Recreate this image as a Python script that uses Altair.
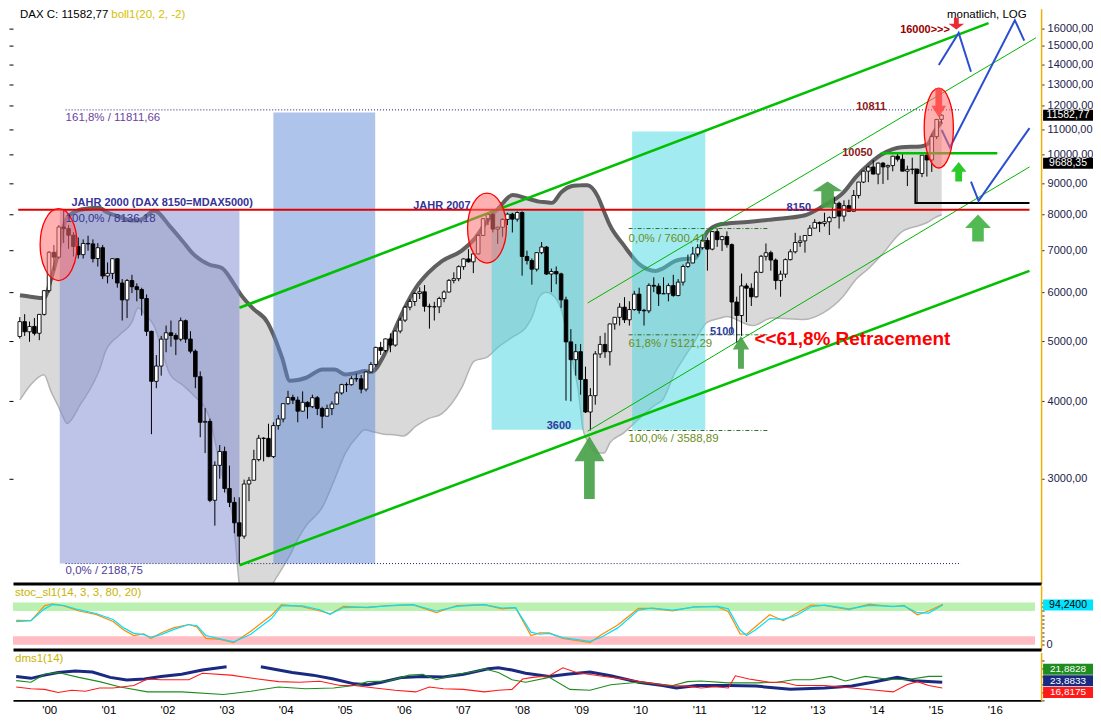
import altair as alt
import pandas as pd

FONT = "Liberation Sans"
W = 1030
H_MAIN, H_STO, H_DMS = 576, 64, 48
X_DOMAIN = [1999.386, 2016.783]
Y_DOMAIN = [2032, 17205]
STO_DOMAIN = [-11, 140]
DMS_DOMAIN = [0, 60]

year_ticks = list(range(2000, 2017))
main_ticks = [3000, 4000, 5000, 6000, 7000, 8000, 9000, 10000, 11000, 12000, 13000, 14000, 15000, 16000]

# ---------------- monthly candles, Jun 1999 .. Mar 2015 ----------------
first_month = 1999 + 5 / 12
c_open = [
    5090, 5378, 5179, 5283, 5150, 5525, 6034,
    6958, 6835, 7644, 7599, 7414, 7109, 6898, 7190, 7179, 6798, 7078, 6372,
    6434, 6795, 6208, 5830, 6265, 6123, 6058, 5861, 5188, 4308, 4560, 5039,
    5160, 5108, 5039, 5397, 5041, 4819, 4383, 3700, 3712, 2769, 3153, 3320,
    2893, 2748, 2547, 2424, 2942, 2983, 3221, 3487, 3485, 3257, 3655, 3746,
    3965, 4058, 4018, 3856, 3985, 3921, 4053, 3895, 3785, 3893, 3960, 4126,
    4256, 4255, 4350, 4349, 4185, 4461, 4587, 4887, 4830, 5044, 4929, 5193,
    5408, 5674, 5796, 5970, 6009, 5693, 5683, 5682, 5860, 6004, 6269, 6309,
    6597, 6789, 6716, 6917, 7409, 7883, 8007, 7584, 7638, 7862, 8019, 7871,
    8067, 6851, 6748, 6535, 6949, 7096, 6418, 6479, 6422, 5831, 4988, 4669,
    4810, 4338, 3844, 4085, 4770, 4941, 4809, 5332, 5465, 5675, 5415, 5625,
    5957, 5608, 5598, 6154, 6136, 5965, 5966, 6148, 5925, 6229, 6601, 6688,
    6914, 7077, 7272, 7041, 7514, 7294, 7376, 7159, 5785, 5502, 6141, 6089,
    5898, 6459, 6856, 6947, 6761, 6264, 6416, 6772, 6971, 7216, 7260, 7406,
    7612, 7776, 7742, 7795, 7914, 8349, 7959, 8276, 8104, 8594, 9033, 9406,
    9552, 9306, 9692, 9556, 9603, 9943, 9833, 9407, 9470, 9474, 9326, 9981,
    9806, 10694, 11402,
]
c_high = [
    5470, 5530, 5380, 5450, 5530, 6050, 6992,
    7150, 7700, 8136, 7700, 7500, 7350, 7300, 7400, 7300, 7200, 7150, 6700,
    6800, 6800, 6300, 6300, 6400, 6200, 6100, 5950, 5200, 4750, 5100, 5300,
    5400, 5150, 5460, 5420, 5190, 4850, 4470, 3900, 3750, 3200, 3400, 3380,
    3150, 2800, 2800, 2990, 3020, 3340, 3530, 3500, 3680, 3700, 3800, 3970,
    4160, 4100, 4070, 4150, 4000, 4100, 4080, 3920, 3950, 4000, 4150, 4270,
    4290, 4390, 4430, 4410, 4470, 4630, 4900, 4990, 5050, 5150, 5200, 5460,
    5700, 5850, 6000, 6110, 6160, 5750, 5790, 5900, 6040, 6300, 6460, 6630,
    6800, 7040, 6950, 7430, 7900, 8060, 8150, 7650, 7900, 8060, 8060, 8100,
    8100, 7000, 6800, 6960, 7230, 7120, 6550, 6600, 6450, 5900, 5230, 4950,
    4950, 4550, 4200, 4820, 5100, 5160, 5340, 5470, 5760, 5890, 5800, 6030,
    6100, 5640, 6200, 6340, 6200, 6340, 6200, 6400, 6300, 6650, 6900, 7100,
    7170, 7440, 7350, 7530, 7600, 7400, 7520, 7190, 5900, 6430, 6200, 6200,
    6500, 6890, 7190, 7000, 6800, 6500, 6800, 7040, 7480, 7400, 7420, 7700,
    7870, 7800, 8060, 7950, 8560, 8400, 8440, 8460, 8770, 9040, 9420, 9600,
    9800, 9710, 9730, 9640, 9960, 10050, 10050, 9600, 9890, 9500, 9990, 10090,
    10810, 11420, 11620,
]
c_low = [
    5050, 5100, 4990, 5110, 5020, 5500, 5990,
    6500, 6790, 7200, 7050, 6850, 6800, 6800, 7000, 6700, 6600, 6300, 6200,
    6300, 6100, 5400, 5450, 5980, 5800, 5500, 5100, 3540, 4200, 4400, 4800,
    4900, 4750, 5000, 4970, 4780, 4200, 3500, 3300, 2750, 2520, 3000, 2850,
    2700, 2450, 2189, 2400, 2760, 2980, 3200, 3200, 3250, 3240, 3600, 3700,
    3950, 3960, 3700, 3850, 3750, 3900, 3800, 3620, 3780, 3800, 3950, 4100,
    4140, 4240, 4300, 4120, 4150, 4450, 4550, 4750, 4800, 4800, 4900, 5150,
    5370, 5610, 5700, 5850, 5580, 5240, 5400, 5550, 5780, 5990, 6200, 6250,
    6520, 6700, 6440, 6900, 7400, 7700, 7490, 7180, 7370, 7700, 7490, 7800,
    6380, 6650, 6170, 6480, 6910, 6400, 6000, 6180, 5660, 4010, 4000, 4400,
    4100, 3830, 3589, 3950, 4700, 4700, 4570, 5220, 5300, 5350, 5300, 5600,
    5540, 5300, 5550, 6000, 5700, 5960, 5800, 5900, 5910, 6150, 6570, 6680,
    6850, 7030, 6500, 7010, 7100, 6990, 7080, 5150, 4966, 5100, 5370, 5700,
    5880, 6440, 6750, 6500, 6060, 5900, 6330, 6750, 6930, 7100, 6950, 7400,
    7610, 7500, 7660, 7420, 7900, 7600, 7800, 8100, 8100, 8500, 9000, 9030,
    9300, 8960, 8970, 9100, 9400, 9750, 9400, 8900, 9300, 8355, 9200, 9220,
    9380, 10600, 11250,
]
c_close = [
    5378, 5179, 5283, 5150, 5525, 6034, 6958,
    6835, 7644, 7599, 7414, 7109, 6898, 7190, 7179, 6798, 7078, 6372, 6434,
    6795, 6208, 5830, 6265, 6123, 6058, 5861, 5188, 4308, 4560, 5039, 5160,
    5108, 5039, 5397, 5041, 4819, 4383, 3700, 3712, 2769, 3153, 3320, 2893,
    2748, 2547, 2424, 2942, 2983, 3221, 3487, 3485, 3257, 3655, 3746, 3965,
    4058, 4018, 3856, 3985, 3921, 4053, 3895, 3785, 3893, 3960, 4126, 4256,
    4255, 4350, 4349, 4185, 4461, 4587, 4887, 4830, 5044, 4929, 5193, 5408,
    5674, 5796, 5970, 6009, 5693, 5683, 5682, 5860, 6004, 6269, 6309, 6597,
    6789, 6716, 6917, 7409, 7883, 8007, 7584, 7638, 7862, 8019, 7871, 8067,
    6851, 6748, 6535, 6949, 7096, 6418, 6479, 6422, 5831, 4988, 4669, 4810,
    4338, 3844, 4085, 4770, 4941, 4809, 5332, 5465, 5675, 5415, 5625, 5957,
    5608, 5598, 6154, 6136, 5965, 5966, 6148, 5925, 6229, 6601, 6688, 6914,
    7077, 7272, 7041, 7514, 7294, 7376, 7159, 5785, 5502, 6141, 6089, 5898,
    6459, 6856, 6947, 6761, 6264, 6416, 6772, 6971, 7216, 7260, 7406, 7612,
    7776, 7742, 7795, 7914, 8349, 7959, 8276, 8104, 8594, 9033, 9406, 9552,
    9306, 9692, 9556, 9603, 9943, 9833, 9407, 9470, 9474, 9326, 9981, 9806,
    10694, 11402, 11583,
]

# ---------------- Bollinger band ----------------
bb_t = [1999.42, 1999.60, 1999.83, 1999.95, 2000.08, 2000.17, 2000.22, 2000.45, 2000.66, 2000.78,
        2000.88, 2001.10, 2001.33, 2001.44, 2001.54, 2001.71, 2001.99, 2002.20, 2002.37, 2002.65,
        2002.87, 2003.07, 2003.20, 2003.40, 2003.65, 2003.76, 2003.90, 2004.03, 2004.17, 2004.31,
        2004.59, 2004.80, 2004.98, 2005.19, 2005.31, 2005.42, 2005.64, 2005.85, 2005.97, 2006.19,
        2006.40, 2006.63, 2006.97, 2007.18, 2007.41, 2007.60, 2007.84, 2008.08, 2008.18, 2008.29,
        2008.41, 2008.51, 2008.67, 2008.84, 2008.96, 2009.04, 2009.12, 2009.29, 2009.40, 2009.50,
        2009.73, 2010.00, 2010.28, 2010.40, 2010.61, 2010.73, 2010.95, 2011.16, 2011.39, 2011.49,
        2011.94, 2012.27, 2012.82, 2013.15, 2013.48, 2013.71, 2013.93, 2014.15, 2014.48, 2014.81,
        2014.93, 2015.04, 2015.17]
bb_up = [5930, 5900, 5870, 6300, 7000, 7695, 7900, 8150, 8200, 8212,
         8100, 7950, 7834, 7834, 7900, 8122, 7650, 7250, 6930, 6650,
         6565, 6200, 5935, 5650, 5363, 5100, 4700, 4319, 4330, 4366,
         4500, 4500, 4420, 4450, 4478, 4460, 4746, 5287, 5600, 6108,
         6450, 6733, 7000, 7300, 7834, 8200, 8606, 8500, 8452, 8400,
         8380, 8361, 8700, 8895, 8920, 8930, 8924, 8575, 8100, 7695,
         7159, 6660, 6494, 6550, 6733, 6780, 6806, 7502, 7722, 7740,
         7800, 7862, 7976, 8270, 8668, 9219, 9661, 10015, 10280, 10310,
         10400, 10881, 11300]
bb_lo = [4020, 4250, 4414, 4150, 3918, 3750, 3683, 3950, 4258, 4500,
         4815, 5100, 5363, 5662, 5550, 5300, 4414, 4250, 4107, 3780,
         3044, 2541, 1950, 1900, 1950, 2046, 2150, 2256, 2400, 2520,
         2702, 3000, 3300, 3516, 3600, 3580, 3540, 3530, 3516, 3650,
         3750, 3821, 4212, 4645, 4720, 4900, 5080, 5287, 5500, 5892,
         6000, 5950, 5621, 4746, 4167, 3607, 3450, 3300, 3300, 3429,
         3555, 3750, 3950, 4019, 4450, 4645, 5000, 5363, 5450, 5482,
         5300, 5450, 5422, 5561, 5900, 6300, 6565, 6900, 7502, 7700,
         7780, 7900, 8000]

# ---------------- shaded time windows ----------------
zone_t1 = [2000.10, 2003.75, 2007.48, 2009.88]
zone_t2 = [2003.17, 2005.49, 2009.05, 2011.13]
zone_lo = [2188.75, 2188.75, 3600, 3600]
zone_hi = [8136.18, 11700, 8120, 10900]
zone_col = ["#7d88d2", "#5f8ad8", "#3fd3df", "#46d8e4"]

# ---------------- drawn lines ----------------
thick_id = ["upper", "upper", "lower", "lower"]
thick_t = [2003.17, 2015.97, 2003.17, 2016.67]
thick_v = [5662, 16303, 2175, 6494]

thin_id = ["a", "a", "b", "b"]
thin_t = [2009.12, 2016.78, 2009.12, 2016.67]
thin_v = [5764, 15440, 3580, 9556]

red_t = [1999.39, 2016.67]
red_v = [8150, 8150]

hl_t = [2014.13, 2016.12]
hl_v = [10050, 10050]

blk_t = [2014.72, 2014.72, 2016.67]
blk_v = [9500, 8355, 8355]

blue_id = ["b1", "b1", "b1", "b2", "b2", "b2", "b2", "b3", "b3", "b3"]
blue_t = [2015.12, 2015.46, 2015.67, 2015.17, 2015.31, 2016.42, 2016.58, 2015.67, 2015.80, 2016.67]
blue_v = [13959, 15724, 13612, 10959, 10272, 16482, 15276, 9051, 8424, 11040]

fib_id = ["f161", "f161", "f0", "f0"]
fib_t = [2000.2, 2015.5, 2000.2, 2015.5]
fib_v = [11811.66, 11811.66, 2188.75, 2188.75]

fib2_id = ["a", "a", "b", "b", "c", "c"]
fib2_t = [2009.82, 2012.22, 2009.82, 2012.22, 2009.82, 2012.22]
fib2_v = [7600.41, 7600.41, 5121.29, 5121.29, 3588.89, 3588.89]

# ---------------- ellipses and arrows ----------------
ell_t = [2000.08, 2007.40, 2015.12]
ell_v = [7159, 7613, 11040]
ell_shape = [
    "M 0.514 0 C 0.514 0.552 0.284 1 0 1 C -0.284 1 -0.514 0.552 -0.514 0 C -0.514 -0.552 -0.284 -1 0 -1 C 0.284 -1 0.514 -0.552 0.514 0 Z",
    "M 0.556 0 C 0.556 0.552 0.307 1 0 1 C -0.307 1 -0.556 0.552 -0.556 0 C -0.556 -0.552 -0.307 -1 0 -1 C 0.307 -1 0.556 -0.552 0.556 0 Z",
    "M 0.366 0 C 0.366 0.552 0.202 1 0 1 C -0.202 1 -0.366 0.552 -0.366 0 C -0.366 -0.552 -0.202 -1 0 -1 C 0.202 -1 0.366 -0.552 0.366 0 Z",
]
ell_size = [5184, 4900, 6400]

arr_t = [2009.15, 2011.74, 2013.22, 2015.46, 2015.79, 2015.12, 2015.42]
arr_v = [3126, 4798, 8622, 9383, 7613, 12130, 16272]
arr_shape = [
    "M 0 -1 L 0.477 -0.2 L 0.17 -0.2 L 0.17 1 L -0.17 1 L -0.17 -0.2 L -0.477 -0.2 Z",
    "M 0 -1 L 0.5 -0.18 L 0.18 -0.18 L 0.18 1 L -0.18 1 L -0.18 -0.18 L -0.5 -0.18 Z",
    "M 0 -0.87 L 1 -0.225 L 0.42 -0.225 L 0.42 0.87 L -0.42 0.87 L -0.42 -0.225 L -1 -0.225 Z",
    "M 0 -1 L 0.8 0 L 0.35 0 L 0.35 1 L -0.35 1 L -0.35 0 L -0.8 0 Z",
    "M 0 -1 L 0.96 0 L 0.43 0 L 0.43 1 L -0.43 1 L -0.43 0 L -0.96 0 Z",
    "M 0 1 L 0.5 0.2 L 0.23 0.2 L 0.23 -1 L -0.23 -1 L -0.23 0.2 L -0.5 0.2 Z",
    "M 0 0.75 L 1 0 L 0.31 0 L 0.31 -0.75 L -0.31 -0.75 L -0.31 0 L -1 0 Z",
]
arr_size = [3969, 1089, 900, 380, 729, 852, 242]
arr_col = ["#45a045", "#45a045", "#45a045", "#14c414", "#3fb23f", "#ff4a4a", "#e8141e"]

# ---------------- annotation texts ----------------
bold_txt = ["JAHR 2000 (DAX 8150=MDAX5000)", "JAHR 2007", "8150", "3600", "5100",
            "16000>>>", "10811", "10050"]
bold_t = [2000.30, 2006.14, 2012.52, 2008.42, 2011.21, 2014.46, 2013.71, 2013.47]
bold_v = [8361, 8270, 8212, 3645, 5173, 15894, 11953, 10050]
bold_col = ["#333399", "#333399", "#333399", "#2d3d9d", "#2d3d9d", "#990000", "#8b1a1a", "#8b1a1a"]

norm_txt = ["161,8% / 11811,66", "100,0% / 8136,18", "0,0% / 2188,75",
            "0,0% / 7600,41", "61,8% / 5121,29", "100,0% / 3588,89"]
norm_t = [2000.2, 2000.2, 2000.2, 2009.82, 2009.82, 2009.82]
norm_v = [11446, 7862, 2129, 7315, 4954, 3478]
norm_col = ["#6a3fa0", "#33338f", "#4b3c9a", "#6b8e23", "#6b8e23", "#6b8e23"]

top_txt = ["DAX C: 11582,77", "boll1(20, 2, -2)", "monatlich, LOG"]
top_t = [1999.42, 2000.98, 2015.26]
top_v = [17150, 17150, 17150]
top_col = ["#000000", "#d4c000", "#000000"]

retr_txt = ["<<61,8% Retracement"]
retr_t = [2011.97]
retr_v = [5046]

main_box_lab = ["11582,77", "9688,35"]
main_box_v = [11582.77, 9688.35]

# ---------------- stochastic ----------------
sto_t = [1999.44, 1999.69, 1999.92, 2000.05, 2000.25, 2000.50, 2000.79, 2001.08, 2001.26, 2001.43,
         2001.60, 2001.72, 2001.89, 2002.10, 2002.36, 2002.50, 2002.65, 2002.89, 2003.12, 2003.41,
         2003.76, 2003.93, 2004.28, 2004.58, 2004.75, 2004.98, 2005.39, 2005.74, 2006.15, 2006.55,
         2006.90, 2007.36, 2007.66, 2007.89, 2008.15, 2008.30, 2008.46, 2008.69, 2009.15, 2009.34,
         2009.62, 2009.97, 2010.20, 2010.55, 2010.91, 2011.31, 2011.49, 2011.69, 2011.80, 2011.96,
         2012.19, 2012.42, 2012.65, 2012.89, 2013.12, 2013.53, 2013.88, 2014.28, 2014.46, 2014.69,
         2014.88, 2015.12]
sto_k = [58, 57, 92, 97, 92, 80, 72, 55, 35, 22, 26, 15, 28, 40, 48, 42, 15, 13, 5, 32,
         70, 95, 90, 80, 73, 91, 88, 93, 95, 76, 93, 95, 85, 88, 22, 28, 28, 15, 5, 24,
         47, 86, 86, 80, 90, 90, 78, 26, 25, 44, 71, 57, 75, 94, 93, 83, 96, 90, 93, 71,
         80, 96]
sto_d = [55, 57, 85, 95, 93, 83, 74, 60, 40, 27, 24, 18, 24, 36, 48, 45, 22, 14, 7, 25,
         62, 92, 92, 83, 72, 88, 89, 92, 95, 80, 91, 95, 87, 88, 30, 25, 27, 17, 8, 18,
         40, 82, 87, 82, 89, 91, 85, 35, 22, 36, 62, 60, 70, 90, 94, 85, 93, 91, 92, 76,
         75, 94]
sto_zone_lo = [80, 0]
sto_zone_hi = [100, 20]
sto_zone_col = ["#b3f0a8", "#ffb6bd"]
sto_zone_t = [1999.386, 2016.68]

# ---------------- DMS ----------------
adx_seg = [1] * 13 + [2] * 33
adx_t = [1999.44, 1999.69, 1999.92, 2000.15, 2000.44, 2000.73, 2001.03, 2001.31, 2001.61, 2001.89,
         2002.24, 2002.59, 2003.00,
         2003.58, 2003.88, 2004.11, 2004.46, 2004.81, 2005.16, 2005.39, 2005.62, 2005.97, 2006.32,
         2006.67, 2007.01, 2007.43, 2007.60, 2007.83, 2008.06, 2008.46, 2008.76, 2009.15, 2009.50,
         2009.97, 2010.38, 2010.61, 2010.96, 2011.49, 2011.96, 2012.54, 2013.12, 2013.58, 2013.93,
         2014.35, 2014.63, 2015.11]
adx_v = [30.0, 27.6, 31.6, 34.8, 36.8, 35.6, 28.8, 25.5, 26.7, 30.0, 32.8, 38.0, 42.1,
         42.1, 38.0, 34.8, 31.6, 26.7, 20.7, 19.5, 22.7, 28.8, 30.0, 29.2, 32.8, 39.6, 40.8,
         38.0, 34.0, 30.0, 32.8, 35.6, 30.8, 22.7, 18.7, 15.5, 18.7, 18.7, 17.9, 13.8, 15.5,
         17.9, 22.7, 28.8, 24.7, 22.7]
pdi_t = [1999.44, 1999.69, 1999.92, 2000.15, 2000.50, 2000.85, 2001.20, 2001.66, 2002.24, 2002.95,
         2003.41, 2003.88, 2004.34, 2004.81, 2005.16, 2005.39, 2005.74, 2006.09, 2006.32, 2006.55,
         2006.90, 2007.25, 2007.36, 2007.60, 2007.83, 2008.06, 2008.46, 2008.81, 2009.15, 2009.50,
         2009.97, 2010.55, 2010.80, 2011.03, 2011.49, 2011.96, 2012.31, 2012.59, 2012.89, 2013.23,
         2013.47, 2013.81, 2014.16, 2014.51, 2014.88, 2015.11]
pdi_v = [24.7, 22.7, 32.8, 34.8, 28.8, 23.5, 16.7, 10.6, 10.6, 7.4,
         11.4, 16.7, 14.6, 15.5, 18.7, 23.5, 24.3, 31.6, 32.8, 25.9,
         32.8, 36.8, 39.6, 34.8, 25.9, 22.7, 28.8, 13.8, 12.6, 19.5,
         22.7, 18.7, 23.5, 24.3, 21.9, 21.9, 22.7, 25.9, 25.9, 30.0,
         24.3, 30.0, 26.7, 25.9, 30.0, 30.0]
mdi_t = [1999.44, 1999.69, 1999.92, 2000.15, 2000.38, 2000.61, 2000.85, 2001.08, 2001.43, 2001.66,
         2001.89, 2002.36, 2002.59, 2003.07, 2003.53, 2003.88, 2004.23, 2004.58, 2004.92, 2005.16,
         2005.51, 2005.85, 2006.20, 2006.43, 2006.67, 2007.01, 2007.36, 2007.60, 2007.83, 2008.01,
         2008.18, 2008.46, 2008.69, 2008.92, 2009.39, 2009.73, 2010.08, 2010.43, 2010.80, 2011.03,
         2011.26, 2011.49, 2011.61, 2011.84, 2012.19, 2012.42, 2012.65, 2013.12, 2013.58, 2013.99,
         2014.28, 2014.51, 2014.69, 2014.88, 2015.11]
mdi_v = [16.7, 14.6, 13.8, 9.8, 12.6, 11.4, 15.5, 15.5, 18.7, 26.7,
         25.9, 25.9, 34.0, 31.6, 26.7, 23.5, 22.7, 23.9, 18.7, 18.7,
         15.5, 12.6, 10.6, 16.7, 14.6, 13.8, 10.6, 12.6, 13.8, 26.7,
         28.8, 30.8, 40.8, 34.8, 30.0, 26.7, 22.7, 18.7, 17.9, 15.5,
         17.1, 15.5, 30.8, 26.7, 22.7, 22.7, 18.7, 18.7, 15.5, 12.6,
         10.6, 19.5, 23.5, 18.7, 15.5]
dms_box_lab = ["21,8828", "23,8833", "16,8175"]
dms_box_v = [39, 24.5, 10]
dms_box_bg = ["#1e8c1e", "#1a2a80", "#ff1a1a"]

# =====================================================================
xs = alt.Scale(domain=X_DOMAIN, nice=False, zero=False)
ys = alt.Scale(type="log", domain=Y_DOMAIN, nice=False)
ss = alt.Scale(domain=STO_DOMAIN, nice=False, zero=False)
ds = alt.Scale(domain=DMS_DOMAIN, nice=False, zero=False)
BOX = "M -1 -0.22 L 1 -0.22 L 1 0.22 L -1 0.22 Z"
BOX_S = "M -1 -0.22 L 1 -0.22 L 1 0.22 L -1 0.22 Z"


def X(f="t"):
    return alt.X(f"{f}:Q", scale=xs, axis=None)


def Ym(f="v"):
    return alt.Y(f"{f}:Q", scale=ys, axis=None)


def poly(ids, ts, vs, color, width, dash=None, yscale=ys):
    df = pd.DataFrame({"id": ids, "t": ts, "v": vs, "k": list(range(len(ts)))})
    kw = dict(color=color, strokeWidth=width, clip=True)
    if dash:
        kw["strokeDash"] = dash
    return alt.Chart(df).mark_line(**kw).encode(
        x=X(), y=alt.Y("v:Q", scale=yscale, axis=None), detail="id:N", order="k:Q")


bottom_axis_plain = alt.Axis(orient="bottom", labels=False, ticks=False, domain=True,
                             domainColor="black", domainWidth=3, grid=False, title=None, zindex=1)

# ---------------- main panel ----------------
bb_df = pd.DataFrame({"t": bb_t, "up": bb_up, "lo": bb_lo})
band = alt.Chart(bb_df).mark_area(color="#d9d9d9", clip=True, interpolate="monotone").encode(
    x=alt.X("t:Q", scale=xs, axis=bottom_axis_plain),
    y=alt.Y("lo:Q", scale=ys, axis=alt.Axis(
        orient="right", values=main_ticks, grid=False, title=None,
        labelExpr="replace(format(datum.value, '.2f'), '.', ',')",
        labelFont=FONT, labelFontSize=11, labelColor="#1c1c4c", labelPadding=3,
        domainColor="#f0b000", domainWidth=1.5, tickColor="#333333", tickSize=3, zindex=0)),
    y2="up:Q")
band_up = alt.Chart(bb_df).mark_line(color="#5f5f5f", strokeWidth=4, clip=True, interpolate="monotone").encode(
    x=X(), y=Ym("up"))
band_lo = alt.Chart(bb_df).mark_line(color="#b4b4b4", strokeWidth=1.5, clip=True, interpolate="monotone").encode(
    x=X(), y=Ym("lo"))

zone_df = pd.DataFrame({"t1": zone_t1, "t2": zone_t2, "lo": zone_lo, "hi": zone_hi, "col": zone_col})
zones = alt.Chart(zone_df).mark_rect(opacity=0.5).encode(
    x=X("t1"), x2="t2:Q", y=Ym("lo"), y2="hi:Q", color=alt.Color("col:N", scale=None))

cdf = pd.DataFrame({"t": [first_month + i / 12 for i in range(len(c_close))],
                    "o": c_open, "h": c_high, "l": c_low, "c": c_close})
wick = alt.Chart(cdf).mark_rule(color="black", strokeWidth=1).encode(x=X(), y=Ym("l"), y2="h:Q")
body = alt.Chart(cdf).mark_bar(size=3.6, stroke="black", strokeWidth=0.9).encode(
    x=X(), y=Ym("o"), y2="c:Q",
    fill=alt.condition("datum.c >= datum.o", alt.value("white"), alt.value("black")))

fib_lines = poly(fib_id, fib_t, fib_v, "#1a1a6e", 1, [1, 2])
fib2_lines = poly(fib2_id, fib2_t, fib2_v, "#2e6b2e", 1, [4, 2, 1, 2])
thick_lines = poly(thick_id, thick_t, thick_v, "#00c000", 2.6)
thin_lines = poly(thin_id, thin_t, thin_v, "#00b400", 1)
red_line = poly(["r", "r"], red_t, red_v, "#e00000", 2)
hl_line = poly(["g", "g"], hl_t, hl_v, "#00c000", 2.5)
blk_line = poly(["k"] * 3, blk_t, blk_v, "#000000", 2)
blue_lines = poly(blue_id, blue_t, blue_v, "#2a4fd0", 2)

ell_df = pd.DataFrame({"t": ell_t, "v": ell_v, "path": ell_shape, "sz": ell_size})
ellipses = alt.Chart(ell_df).mark_point(filled=True, fill="#ff7070", fillOpacity=0.55,
                                         stroke="#ff0000", strokeWidth=1.3, strokeOpacity=1, opacity=1).encode(
    x=X(), y=Ym(), shape=alt.Shape("path:N", scale=None), size=alt.Size("sz:Q", scale=None))

arr_df = pd.DataFrame({"t": arr_t, "v": arr_v, "path": arr_shape, "sz": arr_size, "col": arr_col})
arrows = alt.Chart(arr_df).mark_point(filled=True, opacity=0.9, strokeWidth=0).encode(
    x=X(), y=Ym(), shape=alt.Shape("path:N", scale=None), size=alt.Size("sz:Q", scale=None),
    fill=alt.Fill("col:N", scale=None))

bold_df = pd.DataFrame({"t": bold_t, "v": bold_v, "txt": bold_txt, "col": bold_col})
bold_text = alt.Chart(bold_df).mark_text(align="left", baseline="middle", font=FONT, fontSize=11,
                                         fontWeight="bold").encode(
    x=X(), y=Ym(), text="txt:N", color=alt.Color("col:N", scale=None))
norm_df = pd.DataFrame({"t": norm_t, "v": norm_v, "txt": norm_txt, "col": norm_col})
norm_text = alt.Chart(norm_df).mark_text(align="left", baseline="middle", font=FONT, fontSize=11.5).encode(
    x=X(), y=Ym(), text="txt:N", color=alt.Color("col:N", scale=None))
top_df = pd.DataFrame({"t": top_t, "v": top_v, "txt": top_txt, "col": top_col})
top_text = alt.Chart(top_df).mark_text(align="left", baseline="top", font=FONT, fontSize=11.5).encode(
    x=X(), y=Ym(), text="txt:N", color=alt.Color("col:N", scale=None))
retr_df = pd.DataFrame({"t": retr_t, "v": retr_v, "txt": retr_txt})
retr_text = alt.Chart(retr_df).mark_text(align="left", baseline="middle", font=FONT, fontSize=19,
                                         fontWeight="bold", color="#ff0000").encode(
    x=X(), y=Ym(), text="txt:N")

mbox_df = pd.DataFrame({"v": main_box_v, "lab": main_box_lab})
mbox = alt.Chart(mbox_df).mark_point(filled=True, shape=BOX, size=2500, opacity=1, fill="black",
                                     strokeWidth=0).encode(x=alt.value(W + 27), y=Ym())
mbox_txt = alt.Chart(mbox_df).mark_text(align="center", baseline="middle", font=FONT, fontSize=10.5,
                                        color="white").encode(x=alt.value(W + 27), y=Ym(), text="lab:N")

left_ticks = alt.Chart(pd.DataFrame({"v": main_ticks})).mark_point(opacity=0).encode(
    y=alt.Y("v:Q", scale=ys, axis=alt.Axis(orient="left", values=main_ticks, labels=False, domain=False,
                                           ticks=True, tickSize=4, tickColor="black", grid=False,
                                           title=None)))

main = alt.layer(band, band_lo, band_up, zones, fib_lines, fib2_lines, wick, body,
                 thick_lines, thin_lines, red_line, hl_line, blk_line, blue_lines,
                 ellipses, arrows, bold_text, norm_text, top_text, retr_text,
                 mbox, mbox_txt, left_ticks).resolve_axis(x="independent", y="independent").properties(
    width=W, height=H_MAIN)

# ---------------- stochastic panel ----------------
szone_df = pd.DataFrame({"t1": [sto_zone_t[0]] * 2, "t2": [sto_zone_t[1]] * 2,
                         "lo": sto_zone_lo, "hi": sto_zone_hi, "col": sto_zone_col})
szones = alt.Chart(szone_df).mark_rect(opacity=0.9).encode(
    x=alt.X("t1:Q", scale=xs, axis=bottom_axis_plain), x2="t2:Q",
    y=alt.Y("lo:Q", scale=ss, axis=alt.Axis(
        orient="right", values=[0, 10, 20, 30, 40, 50, 60, 70, 80, 90, 100], grid=False, title=None,
        labelExpr="datum.value == 0 ? '0' : ''", labelFont=FONT, labelFontSize=11, labelColor="#1c1c4c",
        domainColor="#f0b000", domainWidth=1.5, tickColor="#333333", tickSize=3)),
    y2="hi:Q", color=alt.Color("col:N", scale=None))
sdf = pd.DataFrame({"t": sto_t, "k": sto_k, "d": sto_d})
sk = alt.Chart(sdf).mark_line(color="#ff8c00", strokeWidth=1.2).encode(
    x=X(), y=alt.Y("k:Q", scale=ss, axis=None))
sd = alt.Chart(sdf).mark_line(color="#00e0ff", strokeWidth=1.2).encode(
    x=X(), y=alt.Y("d:Q", scale=ss, axis=None))
stitle = alt.Chart(pd.DataFrame({"t": [1999.42], "v": [122], "txt": ["stoc_sl1(14, 3, 3, 80, 20)"]})).mark_text(
    align="left", baseline="middle", font=FONT, fontSize=11.5, color="#c8b400").encode(
    x=X(), y=alt.Y("v:Q", scale=ss, axis=None), text="txt:N")
sbox_df = pd.DataFrame({"v": [94.24], "lab": ["94,2400"]})
sbox = alt.Chart(sbox_df).mark_point(filled=True, shape=BOX, size=2500, opacity=1, fill="#00e5ff",
                                     strokeWidth=0).encode(x=alt.value(W + 27),
                                                           y=alt.Y("v:Q", scale=ss, axis=None))
sbox_txt = alt.Chart(sbox_df).mark_text(align="center", baseline="middle", font=FONT, fontSize=10.5,
                                        color="black").encode(
    x=alt.value(W + 27), y=alt.Y("v:Q", scale=ss, axis=None), text="lab:N")
sto = alt.layer(szones, sk, sd, stitle, sbox, sbox_txt).resolve_axis(
    x="independent", y="independent").properties(width=W, height=H_STO)

# ---------------- DMS panel ----------------
adf = pd.DataFrame({"t": adx_t, "v": adx_v, "seg": adx_seg})
adx = alt.Chart(adf).mark_line(color="#1a2a80", strokeWidth=3).encode(
    x=alt.X("t:Q", scale=xs, axis=alt.Axis(
        orient="bottom", values=year_ticks, labelExpr="\"'\" + substring(toString(datum.value), 2, 4)",
        labelFont=FONT, labelFontSize=11.5, labelColor="black", ticks=False, domainColor="black",
        domainWidth=2, grid=False, title=None, labelPadding=4, labelFlush=False)),
    y=alt.Y("v:Q", scale=ds, axis=alt.Axis(
        orient="right", values=[0, 10, 20, 30, 40, 50], labels=False, grid=False, title=None,
        domainColor="#f0b000", domainWidth=1.5, tickColor="#333333", tickSize=3)),
    detail="seg:N")
pdi = alt.Chart(pd.DataFrame({"t": pdi_t, "v": pdi_v})).mark_line(color="#1e8c1e", strokeWidth=1.1).encode(
    x=X(), y=alt.Y("v:Q", scale=ds, axis=None))
mdi = alt.Chart(pd.DataFrame({"t": mdi_t, "v": mdi_v})).mark_line(color="#ff1a1a", strokeWidth=1.1).encode(
    x=X(), y=alt.Y("v:Q", scale=ds, axis=None))
dtitle = alt.Chart(pd.DataFrame({"t": [1999.42], "v": [52], "txt": ["dms1(14)"]})).mark_text(
    align="left", baseline="middle", font=FONT, fontSize=11.5, color="#c8b400").encode(
    x=X(), y=alt.Y("v:Q", scale=ds, axis=None), text="txt:N")
dbox_df = pd.DataFrame({"v": dms_box_v, "lab": dms_box_lab, "bg": dms_box_bg})
dbox = alt.Chart(dbox_df).mark_point(filled=True, shape=BOX_S, size=2500, opacity=1, strokeWidth=0).encode(
    x=alt.value(W + 27), y=alt.Y("v:Q", scale=ds, axis=None), fill=alt.Fill("bg:N", scale=None))
dbox_txt = alt.Chart(dbox_df).mark_text(align="center", baseline="middle", font=FONT, fontSize=10,
                                        color="white").encode(
    x=alt.value(W + 27), y=alt.Y("v:Q", scale=ds, axis=None), text="lab:N")
dms = alt.layer(adx, pdi, mdi, dtitle, dbox, dbox_txt).resolve_axis(
    x="independent", y="independent").properties(width=W, height=H_DMS)

chart = alt.vconcat(main, sto, dms, spacing=2).properties(
    padding={"left": 0, "right": 0, "top": 0, "bottom": 0}, background="white"
).configure_view(stroke=None)

chart.save("out.html", embed_options={"renderer": "svg", "actions": False})
